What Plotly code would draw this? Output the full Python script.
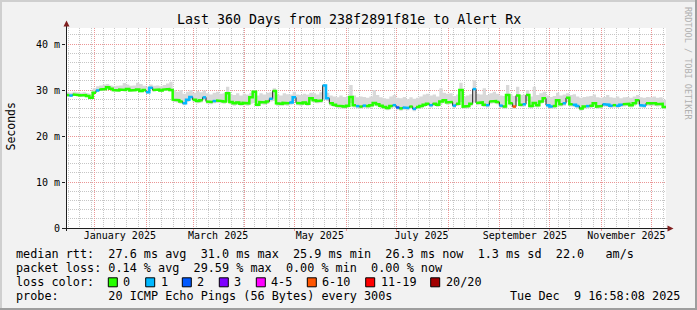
import plotly.graph_objects as go
import pandas as pd

# ---------------- data ----------------
median_ms = [
    28.9, 28.8, 29.0, 28.9, 28.8, 28.9, 28.7, 28.3, 29.4, 29.9,
    30.1, 30.2, 30.6, 30.3, 30.0, 29.9, 30.1, 30.0, 30.2, 29.9,
    30.0, 30.1, 29.8, 30.0, 29.5, 30.5, 30.0, 30.1, 29.9, 30.1,
    30.2, 30.0, 27.9, 27.8, 27.5, 27.1, 27.9, 28.5, 27.9, 27.6,
    27.8, 28.4, 27.5, 27.4, 27.6, 27.7, 27.6, 27.5, 29.3, 27.4,
    27.1, 27.3, 27.0, 27.2, 27.1, 28.4, 29.6, 26.8, 27.4, 27.3,
    27.5, 28.1, 29.8, 27.1, 27.0, 27.2, 27.1, 27.3, 28.4, 27.2,
    27.1, 27.3, 27.0, 28.2, 27.8, 27.6, 27.7, 31.0, 28.2, 27.1,
    26.8, 26.6, 26.5, 26.4, 26.6, 28.5, 26.7, 26.5, 26.4, 26.6,
    26.5, 26.7, 27.2, 26.9, 26.6, 26.3, 26.1, 26.5, 26.7, 26.2,
    26.0, 26.2, 26.1, 26.4, 25.9, 26.3, 26.5, 26.8, 27.0, 26.7,
    27.0, 26.8, 27.5, 27.8, 27.3, 27.4, 26.6, 27.0, 30.0, 26.4,
    26.5, 27.0, 30.2, 27.2, 27.3, 26.8, 26.7, 27.5, 27.6, 27.4,
    26.6, 26.4, 28.9, 27.1, 26.4, 28.8, 26.8, 26.9, 28.9, 26.5,
    27.2, 26.7, 27.5, 28.2, 26.7, 26.4, 26.5, 27.8, 26.9, 27.1,
    28.3, 26.9, 26.8, 26.5, 26.0, 26.4, 26.5, 26.6, 27.1, 26.4,
    26.5, 26.9, 26.8, 26.6, 26.7, 26.6, 26.8, 26.9, 27.0, 26.7,
    27.1, 27.8, 26.7, 26.6, 27.1, 27.0, 27.1, 26.9, 27.0, 26.3,
]
loss_bin = [
    0, 1, 0, 0, 0, 0, 0, 0, 0, 1,
    0, 0, 0, 0, 0, 0, 0, 0, 0, 0,
    0, 0, 0, 0, 1, 1, 0, 0, 0, 0,
    0, 0, 0, 0, 0, 1, 1, 1, 0, 0,
    0, 1, 0, 0, 1, 0, 0, 0, 0, 0,
    0, 0, 0, 0, 0, 0, 0, 0, 0, 0,
    0, 1, 0, 0, 0, 0, 0, 1, 1, 0,
    0, 0, 0, 0, 0, 0, 0, 1, 1, 0,
    0, 0, 0, 0, 0, 0, 0, 1, 0, 1,
    0, 0, 0, 0, 0, 0, 0, 0, 1, 2,
    0, 1, 1, 0, 1, 0, 0, 0, 0, 1,
    0, 0, 0, 0, 0, 0, 1, 0, 0, 0,
    0, 0, 1, 0, 0, 0, 1, 0, 0, 0,
    1, 0, 0, 0, 5, 0, 0, 1, 0, 0,
    0, 0, 0, 0, 1, 1, 0, 0, 0, 1,
    0, 0, 1, 1, 0, 0, 1, 0, 0, 0,
    0, 1, 1, 1, 0, 1, 1, 0, 0, 0,
    0, 0, 1, 1, 0, 0, 0, 0, 0, 0,
]
smoke_hi_ms = [
    29.5, 29.4, 29.6, 29.5, 29.4, 29.5, 29.3, 29.2, 30.4, 30.8,
    31.0, 31.2, 31.3, 31.0, 30.8, 30.9, 31.0, 31.5, 31.2, 30.9,
    31.0, 31.6, 31.3, 30.9, 30.7, 31.2, 30.9, 31.0, 30.8, 31.1,
    31.4, 31.8, 30.0, 29.6, 30.0, 29.2, 29.6, 30.0, 29.4, 29.8,
    29.5, 29.9, 29.3, 29.0, 29.4, 29.6, 29.2, 29.3, 30.7, 29.1,
    28.9, 29.3, 28.8, 29.2, 29.0, 29.4, 30.0, 28.8, 29.3, 29.0,
    29.4, 29.5, 30.4, 29.0, 28.8, 29.3, 29.1, 29.0, 29.6, 29.0,
    28.9, 29.2, 29.0, 29.4, 29.3, 29.0, 29.5, 31.2, 29.4, 28.8,
    28.6, 28.4, 28.8, 28.5, 28.7, 31.1, 28.8, 28.4, 28.6, 28.5,
    28.3, 28.6, 30.0, 28.9, 28.4, 28.2, 28.1, 28.6, 28.9, 28.3,
    28.2, 28.5, 28.0, 28.4, 28.1, 28.3, 28.6, 29.0, 29.2, 28.8,
    29.0, 28.6, 30.4, 29.4, 29.2, 29.3, 28.7, 29.0, 31.6, 28.6,
    28.8, 29.1, 32.2, 29.2, 29.0, 30.4, 28.9, 29.3, 29.6, 29.2,
    28.8, 28.7, 31.1, 29.0, 28.7, 30.7, 28.9, 29.0, 30.0, 28.6,
    30.7, 28.9, 29.3, 29.6, 28.8, 28.5, 28.7, 29.4, 28.8, 29.0,
    29.3, 28.9, 29.1, 28.6, 28.3, 28.5, 28.6, 28.7, 29.0, 28.4,
    28.3, 28.5, 28.9, 28.4, 28.3, 28.6, 28.2, 28.4, 28.5, 28.3,
    28.6, 28.9, 28.4, 28.3, 28.5, 28.4, 28.6, 28.3, 28.4, 27.9,
]
smoke_lo_ms = [
    28.6, 28.5, 28.7, 28.6, 28.5, 28.6, 28.4, 28.0, 29.2, 29.6,
    29.8, 29.9, 30.2, 30.0, 29.7, 29.6, 29.8, 29.7, 29.9, 29.6,
    29.7, 29.8, 29.5, 29.7, 29.2, 30.1, 29.7, 29.8, 29.6, 29.8,
    29.9, 29.7, 27.4, 27.3, 27.0, 26.7, 27.4, 27.9, 27.4, 27.1,
    27.3, 27.8, 27.0, 26.9, 27.1, 27.2, 27.1, 27.0, 27.5, 26.9,
    26.6, 26.8, 26.6, 26.7, 26.6, 27.0, 27.2, 26.4, 26.9, 26.8,
    27.0, 27.5, 27.6, 26.6, 26.6, 26.7, 26.6, 26.8, 27.8, 26.7,
    26.6, 26.8, 26.6, 27.6, 27.3, 27.1, 27.2, 28.0, 27.6, 26.6,
    26.3, 26.1, 26.0, 25.9, 26.1, 27.2, 26.2, 26.0, 25.9, 26.1,
    26.0, 26.2, 26.6, 26.4, 26.1, 25.8, 25.6, 26.0, 26.2, 25.7,
    25.5, 25.7, 25.6, 25.9, 25.4, 25.8, 26.0, 26.3, 26.5, 26.2,
    26.5, 26.3, 26.9, 27.2, 26.8, 26.9, 26.1, 26.5, 27.4, 25.9,
    26.0, 26.5, 27.3, 26.7, 26.8, 26.3, 26.2, 27.0, 27.1, 26.9,
    26.1, 25.9, 27.6, 26.6, 25.9, 27.5, 26.3, 26.4, 27.6, 26.0,
    26.7, 26.2, 27.0, 27.4, 26.2, 25.9, 26.0, 27.2, 26.4, 26.6,
    27.4, 26.4, 26.3, 26.0, 25.5, 25.9, 26.0, 26.1, 26.6, 25.9,
    26.0, 26.4, 26.3, 26.1, 26.2, 26.1, 26.3, 26.4, 26.5, 26.2,
    26.6, 27.0, 26.2, 26.1, 26.6, 26.5, 26.6, 26.4, 26.5, 25.8,
]
loss_labels = ["0", "1", "2", "3", "4-5", "6-10", "11-19", "20/20"]
loss_colors = ["#26ff00", "#00b8ff", "#0059ff", "#7e00ff",
               "#ff00ff", "#ff5500", "#ff0000", "#a10000"]
y_tick_vals = [0, 10, 20, 30, 40]
y_tick_text = ["0", "10 m", "20 m", "30 m", "40 m"]
month_label_dates = ["2025-01-16", "2025-03-16", "2025-05-16",
                     "2025-07-16", "2025-09-16", "2025-11-16"]
month_label_text = ["January 2025", "March 2025", "May 2025",
                    "July 2025", "September 2025", "November 2025"]

title_text = "Last 360 Days from 238f2891f81e to Alert Rx"
row_rtt = "median rtt:  27.6 ms avg  31.0 ms max  25.9 ms min  26.3 ms now  1.3 ms sd  22.0   am/s"
row_loss = "packet loss: 0.14 % avg  29.59 % max  0.00 % min  0.00 % now"
row_color = "loss color:"
row_probe = "probe:       20 ICMP Echo Pings (56 Bytes) every 300s"
row_date = "Tue Dec  9 16:58:08 2025"
watermark = "RRDTOOL / TOBI OETIKER"

assert len(median_ms) == len(loss_bin) == len(smoke_hi_ms) == len(smoke_lo_ms) == 180

# ---------------- geometry ----------------
FW, FH = 697, 310
L, T, W, H = 66, 28, 600, 200
Y_MAX = 43.48
FONT = "DejaVu Sans Mono"

start = pd.Timestamp("2024-12-14 16:58:08")
end = pd.Timestamp("2025-12-09 16:58:08")
n = len(median_ms)
edges = list(pd.date_range(start, end, periods=n + 1))


def pp(px, py):
    return (px - L) / W, (T + H - py) / H


def nb(s):
    return s.replace(" ", "\u00a0")


fig = go.Figure()

# smoke band
fig.add_trace(go.Scatter(x=edges, y=smoke_lo_ms + [smoke_lo_ms[-1]], mode="lines",
                         line=dict(width=0, shape="hv"), hoverinfo="skip",
                         showlegend=False))
fig.add_trace(go.Scatter(x=edges, y=smoke_hi_ms + [smoke_hi_ms[-1]], mode="lines",
                         line=dict(width=0, shape="hv"), fill="tonexty",
                         fillcolor="#d9d9d9", hoverinfo="skip", showlegend=False))

# thin dark median line
fig.add_trace(go.Scatter(x=edges, y=median_ms + [median_ms[-1]], mode="lines",
                         line=dict(width=1, color="#202020", shape="hv"),
                         hoverinfo="skip", showlegend=False))

# loss-coloured median segments
for b, col in enumerate(loss_colors):
    xs, ys = [], []
    prev = -2
    for i in range(n):
        if loss_bin[i] == b:
            if prev != i - 1 and xs:
                xs.append(None)
                ys.append(None)
            xs += [edges[i], edges[i + 1]]
            ys += [median_ms[i], median_ms[i]]
            prev = i
    if xs:
        fig.add_trace(go.Scatter(x=xs, y=ys, mode="lines",
                                 line=dict(width=2.5, color=col),
                                 hoverinfo="skip", showlegend=False,
                                 connectgaps=False))

# dummy trace to activate the label axis
fig.add_trace(go.Scatter(x=[edges[0], edges[-1]], y=[0, 0], mode="lines",
                         line=dict(width=0), xaxis="x2", hoverinfo="skip",
                         showlegend=False))

GRID = "#c6c6c6"
MGRID = "#eb9595"

fig.update_layout(
    width=FW, height=FH,
    margin=dict(l=L, r=FW - L - W, t=T, b=FH - T - H, pad=0),
    paper_bgcolor="#f2f2f2", plot_bgcolor="#ffffff",
    font=dict(family=FONT, size=10, color="#000000"),
    showlegend=False,
    xaxis=dict(type="date", range=[start, end], showgrid=True,
               gridcolor=MGRID, griddash="1px,1px", gridwidth=1,
               tickmode="linear", tick0="2024-12-01", dtick="M1",
               showticklabels=False, ticks="outside", ticklen=2,
               tickcolor=MGRID, zeroline=False, showline=False,
               minor=dict(tickmode="linear", tick0="2024-12-16",
                          dtick=7 * 86400000, showgrid=True,
                          gridcolor=GRID, griddash="1px,1px", ticks=""),
               fixedrange=True),
    xaxis2=dict(type="date", range=[start, end], overlaying="x", anchor="y",
                side="bottom", showgrid=False, tickmode="array",
                tickvals=month_label_dates, ticktext=month_label_text,
                ticks="", tickfont=dict(family=FONT, size=10, color="#000"),
                zeroline=False, showline=False, fixedrange=True),
    yaxis=dict(range=[0, Y_MAX], tickmode="array", tickvals=y_tick_vals,
               ticktext=y_tick_text, showgrid=True, gridcolor=MGRID,
               griddash="1px,1px", ticks="outside", ticklen=3,
               tickcolor="#1f1f1f", zeroline=False, showline=False,
               tickfont=dict(family=FONT, size=10, color="#000"),
               minor=dict(tickmode="linear", tick0=0, dtick=2, showgrid=True,
                          gridcolor=GRID, griddash="1px,1px", ticks=""),
               fixedrange=True),
)

shapes = []
# border shading
def rect(x0, y0, x1, y1, color):
    a0, b0 = pp(x0, y0)
    a1, b1 = pp(x1, y1)
    shapes.append(dict(type="rect", xref="paper", yref="paper", x0=a0, y0=b0,
                       x1=a1, y1=b1, fillcolor=color, line=dict(width=0),
                       layer="above"))

rect(0, 0, FW, 2, "#cfcfcf")
rect(0, 0, 2, FH, "#cfcfcf")
rect(0, FH - 2, FW, FH, "#9e9e9e")
rect(FW - 2, 0, FW, FH, "#9e9e9e")

# axes lines
def line(x0, y0, x1, y1, color, w=1):
    a0, b0 = pp(x0, y0)
    a1, b1 = pp(x1, y1)
    shapes.append(dict(type="line", xref="paper", yref="paper", x0=a0, y0=b0,
                       x1=a1, y1=b1, line=dict(color=color, width=w),
                       layer="above"))

line(66.5, 231, 66.5, 24, "#1f1f1f")
line(63, 228.5, 668, 228.5, "#1f1f1f")

def tri(pts, color):
    path = "M " + " L ".join(f"{pp(x, y)[0]},{pp(x, y)[1]}" for x, y in pts) + " Z"
    shapes.append(dict(type="path", xref="paper", yref="paper", path=path,
                       fillcolor=color, line=dict(width=0), layer="above"))

tri([(66.5, 20.5), (63.5, 26.5), (69.5, 26.5)], "#801f1f")
tri([(673.5, 228.5), (667.5, 225.5), (667.5, 231.5)], "#801f1f")

# loss colour boxes
box_x = [108.3, 145.7, 182.3, 219.3, 256.3, 307.3, 365.7, 430.7]
ROW_Y = [254.3, 268.3, 282.3, 295.8]
for bx, col in zip(box_x, loss_colors):
    a0, b0 = pp(bx, ROW_Y[2] - 4.5)
    a1, b1 = pp(bx + 9, ROW_Y[2] + 4.5)
    shapes.append(dict(type="rect", xref="paper", yref="paper", x0=a0, y0=b0,
                       x1=a1, y1=b1, fillcolor=col,
                       line=dict(color="#000000", width=1), layer="above"))
fig.update_layout(shapes=shapes)

LEG = 11.8
anns = []
def text(px, py, s, size=LEG, xanchor="left", angle=0, color="#000000"):
    a, b = pp(px, py)
    anns.append(dict(x=a, y=b, xref="paper", yref="paper", text=nb(s),
                     showarrow=False, xanchor=xanchor, yanchor="middle",
                     textangle=angle, borderpad=0,
                     font=dict(family=FONT, size=size, color=color)))

text(348.5, 19.5, title_text, size=13.3, xanchor="center")
text(10.5, 127, "Seconds", size=11.5, xanchor="center", angle=-90)
text(688, 63, watermark, size=8.5, xanchor="center", angle=90, color="#b0b0b0")
text(15, ROW_Y[0], row_rtt)
text(15, ROW_Y[1], row_loss)
text(15, ROW_Y[2], row_color)
for bx, lab in zip(box_x, loss_labels):
    text(bx + 14, ROW_Y[2], lab)
text(15, ROW_Y[3], row_probe)
text(681, ROW_Y[3], row_date, xanchor="right")
fig.update_layout(annotations=anns)

fig.write_html("out.html")
